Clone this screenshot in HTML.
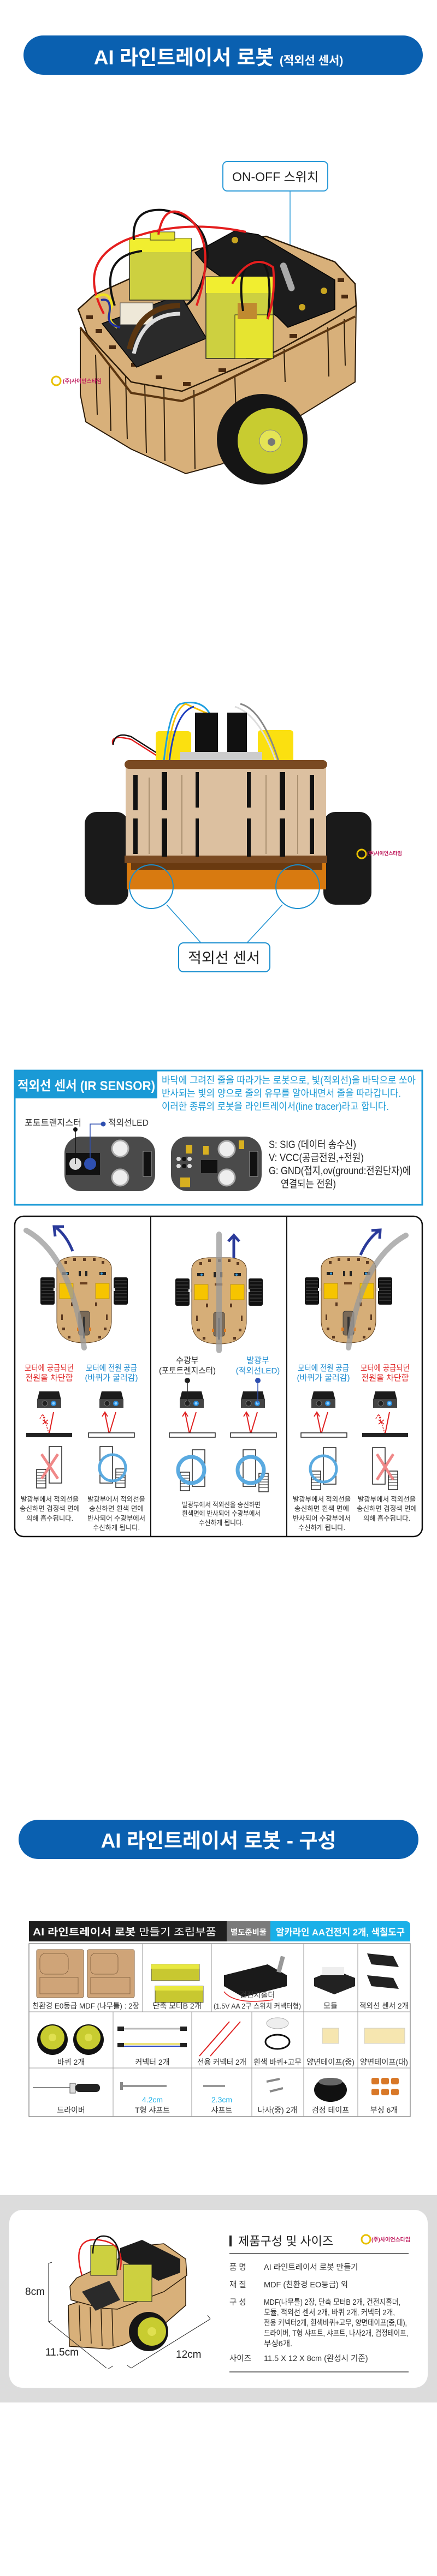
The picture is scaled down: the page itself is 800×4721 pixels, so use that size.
<!DOCTYPE html>
<html><head><meta charset="utf-8">
<style>
html,body{margin:0;padding:0;background:#fff;}
svg{display:block;}
text{font-family:"Liberation Sans","Noto Sans CJK KR",sans-serif;}
</style></head>
<body>
<svg width="800" height="4721" viewBox="0 0 800 4721" xmlns="http://www.w3.org/2000/svg">
<defs>
  <g id="tcar">
    <rect x="-80" y="38" width="26" height="50" rx="3" fill="#111"/>
    <rect x="54" y="38" width="26" height="50" rx="3" fill="#111"/>
    <g stroke="#555" stroke-width="1">
      <line x1="-78" y1="44" x2="-56" y2="44"/><line x1="-78" y1="50" x2="-56" y2="50"/><line x1="-78" y1="56" x2="-56" y2="56"/><line x1="-78" y1="62" x2="-56" y2="62"/><line x1="-78" y1="68" x2="-56" y2="68"/><line x1="-78" y1="74" x2="-56" y2="74"/><line x1="-78" y1="80" x2="-56" y2="80"/>
      <line x1="56" y1="44" x2="78" y2="44"/><line x1="56" y1="50" x2="78" y2="50"/><line x1="56" y1="56" x2="78" y2="56"/><line x1="56" y1="62" x2="78" y2="62"/><line x1="56" y1="68" x2="78" y2="68"/><line x1="56" y1="74" x2="78" y2="74"/><line x1="56" y1="80" x2="78" y2="80"/>
    </g>
    <rect x="-56" y="58" width="112" height="5" fill="#eee"/>
    <path d="M-50,20 Q-48,2 -20,0 L20,0 Q48,2 50,20 L50,120 Q48,158 0,158 Q-48,158 -50,120 Z" fill="#d6ae78" stroke="#5a3b1a" stroke-width="1"/>
    <rect x="-45" y="49" width="25" height="28" fill="#f6c400" stroke="#8a6a00" stroke-width="0.5"/>
    <rect x="21" y="49" width="25" height="28" fill="#f6c400" stroke="#8a6a00" stroke-width="0.5"/>
    <rect x="-40" y="28" width="12" height="6" fill="#222"/><circle cx="-32" cy="31" r="2" fill="#3aa0e0"/>
    <rect x="28" y="28" width="12" height="6" fill="#222"/><circle cx="32" cy="31" r="2" fill="#3aa0e0"/>
    <rect x="-10" y="26" width="4" height="10" fill="#222"/><rect x="2" y="26" width="4" height="10" fill="#222"/>
    <rect x="-8" y="47" width="14" height="4" fill="#6a4020"/>
    <g fill="#5a3820">
      <rect x="-36" y="8" width="5" height="5"/><rect x="-20" y="3" width="5" height="5"/><rect x="-2" y="3" width="5" height="5"/><rect x="16" y="3" width="5" height="5"/><rect x="32" y="8" width="5" height="5"/>
      <rect x="-24" y="84" width="4" height="7"/><rect x="20" y="84" width="4" height="7"/>
      <rect x="-42" y="106" width="3" height="10"/><rect x="40" y="106" width="3" height="10"/>
      <rect x="-40" y="130" width="5" height="5"/><rect x="36" y="130" width="5" height="5"/><rect x="-30" y="145" width="5" height="5"/><rect x="26" y="145" width="5" height="5"/>
    </g>
    <rect x="-10" y="100" width="20" height="44" rx="4" fill="#7a6a58" stroke="#333" stroke-width="0.8"/>
    <rect x="-2" y="110" width="4" height="40" fill="#333"/>
    <rect x="-13" y="130" width="4" height="6" fill="#e07a20"/><rect x="9" y="130" width="4" height="6" fill="#e07a20"/>
  </g>
  <g id="sens">
    <path d="M-18,0 L18,0 L22,16 L22,30 L-22,30 L-22,16 Z" fill="#1c1c1c"/>
    <rect x="-22" y="14" width="44" height="16" fill="#444"/>
    <circle cx="-8" cy="22" r="5" fill="#222" stroke="#777" stroke-width="1"/>
    <circle cx="8" cy="22" r="5" fill="#2a8fe0"/><circle cx="8" cy="22" r="2.5" fill="#8fd0ff"/>
  </g>
  <g id="okray"><polyline points="-12,40 -4,78 8,38" fill="none" stroke="#e02020" stroke-width="2"/><polyline points="-17,46 -12,38 -7,46" fill="none" stroke="#e02020" stroke-width="2"/></g>
  <g id="badray"><line x1="8" y1="38" x2="0" y2="78" stroke="#e02020" stroke-width="2"/><polyline points="0,78 -12,42" fill="none" stroke="#e02020" stroke-width="1.5" stroke-dasharray="3,2"/><polyline points="-17,50 -12,42 -7,50" fill="none" stroke="#e02020" stroke-width="1.5" stroke-dasharray="3,2"/><line x1="-12" y1="52" x2="-2" y2="60" stroke="#e02020" stroke-width="1.5"/><line x1="-2" y1="52" x2="-12" y2="60" stroke="#e02020" stroke-width="1.5"/></g>
  <g id="pad"><rect x="0" y="0" width="17" height="34" fill="#fff" stroke="#222" stroke-width="1.5"/><g stroke="#222" stroke-width="1"><line x1="0" y1="6" x2="17" y2="6"/><line x1="0" y1="11" x2="17" y2="11"/><line x1="0" y1="16" x2="17" y2="16"/><line x1="0" y1="21" x2="17" y2="21"/><line x1="0" y1="26" x2="17" y2="26"/></g></g>
</defs>

<!-- ===== Title 1 ===== -->
<rect x="43" y="65" width="731" height="72" rx="36" fill="#0a60b0"/>
<text x="400" y="118" text-anchor="middle" fill="#fff" font-weight="bold" font-size="37">AI 라인트레이서 로봇 <tspan font-size="21">(적외선 센서)</tspan></text>

<!-- ON-OFF label -->
<rect x="408" y="296" width="192" height="54" rx="8" fill="#fff" stroke="#2a9ad8" stroke-width="2"/>
<text x="504" y="332" text-anchor="middle" font-size="23" fill="#222">ON-OFF 스위치</text>
<line x1="531" y1="350" x2="531" y2="478" stroke="#2a9ad8" stroke-width="1.5"/>
<polygon points="523,475 539,475 531,492" fill="#2a9ad8"/>

<!-- ===== Car 1 (3D) ===== -->
<path d="M147,600 L147,723 L157,773 L240,823 L340,868 L407,850 L650,700 L652,560 L573,607 L507,643 L373,700 L333,717 L240,700 L160,613 Z" fill="#d8b07a" stroke="#2a1a08" stroke-width="2"/>
<g stroke="#2a1a08" stroke-width="2">
<line x1="175" y1="650" x2="178" y2="760"/><line x1="200" y1="670" x2="203" y2="790"/><line x1="230" y1="690" x2="233" y2="805"/><line x1="265" y1="705" x2="268" y2="830"/><line x1="300" y1="712" x2="302" y2="845"/><line x1="355" y1="715" x2="357" y2="860"/><line x1="430" y1="690" x2="432" y2="760"/><line x1="520" y1="640" x2="522" y2="700"/><line x1="600" y1="600" x2="602" y2="690"/><line x1="630" y1="585" x2="632" y2="670"/>
</g>
<path d="M143,567 L173,540 L357,457 L487,433 L613,480 L650,520 L652,560 L573,607 L507,643 L373,700 L333,717 L240,700 L160,613 Z" fill="#d8b07a" stroke="#2a1a08" stroke-width="2.5"/>
<path d="M147,600 L240,720 L333,735 L373,718 L650,580" fill="none" stroke="#5a3510" stroke-width="4"/>
<g fill="#4a2a10">
<rect x="158" y="578" width="12" height="7"/><rect x="175" y="603" width="12" height="7"/><rect x="200" y="633" width="12" height="7"/><rect x="240" y="665" width="12" height="7"/><rect x="285" y="688" width="12" height="7"/><rect x="335" y="700" width="14" height="7"/><rect x="400" y="675" width="14" height="7"/><rect x="450" y="651" width="14" height="7"/><rect x="530" y="612" width="14" height="7"/><rect x="625" y="540" width="12" height="7"/><rect x="618" y="510" width="12" height="7"/>
</g>
<path d="M357,463 L430,423 L473,430 L613,513 L613,567 L527,600 L507,580 L380,490 Z" fill="#1c1c1c" stroke="#000" stroke-width="1.5"/>
<circle cx="430" cy="440" r="6" fill="#c9a520"/><circle cx="593" cy="533" r="6" fill="#c9a520"/><circle cx="553" cy="563" r="6" fill="#c9a520"/>
<rect x="520" y="480" width="12" height="55" rx="6" fill="#aaa" transform="rotate(-20 526 507)"/>
<path d="M187,593 L330,540 L378,620 L250,673 Z" fill="#2a2a2a" stroke="#000" stroke-width="1.5"/>
<rect x="220" y="555" width="60" height="40" fill="#eee8d8" stroke="#555"/>
<path d="M237,640 Q255,560 330,560" fill="none" stroke="#5a3510" stroke-width="10"/>
<path d="M245,648 Q262,575 330,575" fill="none" stroke="#ddd" stroke-width="7"/>
<rect x="237" y="437" width="113" height="113" fill="#cdd040" stroke="#222" stroke-width="1.5"/>
<rect x="237" y="437" width="113" height="25" fill="#f1ee30"/>
<rect x="275" y="425" width="45" height="15" fill="#e8e430" stroke="#222"/>
<rect x="377" y="507" width="123" height="150" fill="#cdd040" stroke="#222" stroke-width="1.5"/>
<rect x="377" y="507" width="123" height="30" fill="#f1ee30"/>
<rect x="430" y="577" width="70" height="80" fill="#e6e430" stroke="#222"/>
<rect x="435" y="555" width="35" height="30" fill="#c08a30"/>
<path d="M190,575 Q140,480 230,440 Q330,400 450,425" fill="none" stroke="#e41e1e" stroke-width="4"/>
<path d="M245,440 Q240,380 300,385 Q380,400 380,470 Q370,540 340,560" fill="none" stroke="#111" stroke-width="4"/>
<path d="M290,430 Q300,370 340,395 Q400,440 360,560" fill="none" stroke="#e41e1e" stroke-width="4"/>
<path d="M210,560 Q180,470 260,460" fill="none" stroke="#111" stroke-width="4"/>
<path d="M445,570 Q430,470 480,480 Q500,500 490,585" fill="none" stroke="#111" stroke-width="4"/>
<path d="M425,520 Q460,460 500,490 Q505,540 490,585" fill="none" stroke="#e41e1e" stroke-width="4"/>
<path d="M175,545 Q200,530 205,560 Q190,585 215,600" fill="none" stroke="#f1e020" stroke-width="5"/>
<path d="M185,550 Q205,545 200,575 Q195,595 220,600" fill="none" stroke="#2030a0" stroke-width="4"/>
<circle cx="480" cy="805" r="83" fill="#151515"/>
<circle cx="495" cy="808" r="60" fill="#c8cc30"/>
<circle cx="495" cy="808" r="20" fill="#e4e455" stroke="#888"/>
<circle cx="497" cy="810" r="7" fill="#777"/>
<circle cx="103" cy="698" r="8" fill="none" stroke="#e8c000" stroke-width="3"/>
<text x="115" y="702" font-size="10" font-weight="bold" fill="#c02060">(주)사이언스타임</text>

<!-- ===== Car 2 photo front ===== -->
<rect x="155" y="1488" width="80" height="170" rx="22" fill="#1a1a1a"/>
<rect x="592" y="1488" width="88" height="170" rx="22" fill="#1a1a1a"/>
<rect x="232" y="1580" width="365" height="50" fill="#d87a10"/>
<rect x="240" y="1580" width="350" height="14" fill="#6a3a10"/>
<path d="M207,1365 Q200,1345 240,1355 L295,1390" fill="none" stroke="#e41e1e" stroke-width="2.5"/>
<path d="M207,1365 Q210,1340 240,1350 L295,1385" fill="none" stroke="#111" stroke-width="2.5"/>
<rect x="285" y="1340" width="65" height="58" rx="6" fill="#fbe010"/>
<rect x="472" y="1338" width="65" height="60" rx="6" fill="#fbe010"/>
<path d="M300,1395 Q310,1300 330,1290 Q370,1280 385,1310" fill="none" stroke="#1fa0e0" stroke-width="3"/>
<path d="M305,1395 Q315,1300 340,1290 L385,1310" fill="none" stroke="#f8c000" stroke-width="3"/>
<path d="M310,1395 Q320,1305 355,1295" fill="none" stroke="#2040c0" stroke-width="3"/>
<path d="M510,1395 Q480,1300 440,1290" fill="none" stroke="#888" stroke-width="3"/>
<path d="M505,1395 Q475,1310 430,1295" fill="none" stroke="#ddd" stroke-width="3"/>
<rect x="357" y="1306" width="42" height="80" fill="#111"/>
<rect x="416" y="1306" width="36" height="80" fill="#111"/>
<rect x="330" y="1378" width="150" height="20" fill="#ccc"/>
<rect x="230" y="1400" width="367" height="180" fill="#dcc0a0"/>
<rect x="228" y="1393" width="371" height="16" rx="8" fill="#7a4a22"/>
<rect x="228" y="1568" width="371" height="14" fill="#7a4a22"/>
<g fill="#111">
<rect x="244" y="1420" width="8" height="65"/><rect x="244" y="1500" width="8" height="65"/>
<rect x="296" y="1415" width="10" height="70"/><rect x="296" y="1500" width="10" height="70"/>
<rect x="358" y="1415" width="6" height="65"/><rect x="358" y="1500" width="6" height="70"/>
<rect x="452" y="1415" width="7" height="65"/><rect x="452" y="1500" width="7" height="70"/>
<rect x="512" y="1415" width="10" height="70"/><rect x="512" y="1500" width="10" height="70"/>
<rect x="567" y="1420" width="8" height="65"/><rect x="567" y="1500" width="8" height="65"/>
</g>
<g stroke="#9a8060" stroke-width="1.5"><line x1="273" y1="1425" x2="273" y2="1565"/><line x1="333" y1="1420" x2="333" y2="1565"/><line x1="487" y1="1420" x2="487" y2="1565"/><line x1="545" y1="1420" x2="545" y2="1565"/></g>
<circle cx="662" cy="1565" r="8" fill="none" stroke="#e8c000" stroke-width="3"/>
<text x="672" y="1567" font-size="9" font-weight="bold" fill="#c02060">(주)사이언스타임</text>
<circle cx="277" cy="1625" r="40" fill="none" stroke="#1a8fd0" stroke-width="2"/>
<circle cx="545" cy="1625" r="40" fill="none" stroke="#1a8fd0" stroke-width="2"/>
<line x1="305" y1="1658" x2="368" y2="1728" stroke="#1a8fd0" stroke-width="1.5"/>
<line x1="517" y1="1658" x2="452" y2="1728" stroke="#1a8fd0" stroke-width="1.5"/>
<rect x="327" y="1728" width="167" height="53" rx="9" fill="#fff" stroke="#1a8fd0" stroke-width="2"/>
<text x="410" y="1765" text-anchor="middle" font-size="27" fill="#222">적외선 센서</text>

<!-- ===== IR SENSOR box ===== -->
<rect x="27" y="1962" width="746" height="246" fill="#fff" stroke="#1a9ad6" stroke-width="3"/>
<rect x="27" y="1962" width="261" height="51" fill="#1a9ad6"/>
<text x="32" y="1998" font-size="24" font-weight="bold" fill="#fff" textLength="252" lengthAdjust="spacingAndGlyphs">적외선 센서 (IR SENSOR)</text>
<g font-size="18" fill="#1a9ad6">
<text x="296" y="1986" textLength="465" lengthAdjust="spacingAndGlyphs">바닥에 그려진 줄을 따라가는 로봇으로, 빛(적외선)을 바닥으로 쏘아</text>
<text x="296" y="2010" textLength="438" lengthAdjust="spacingAndGlyphs">반사되는 빛의 양으로 줄의 유무를 알아내면서 줄을 따라갑니다.</text>
<text x="296" y="2034" textLength="416" lengthAdjust="spacingAndGlyphs">이러한 종류의 로봇을 라인트레이서(line tracer)라고 합니다.</text>
</g>
<text x="45" y="2063" font-size="16" fill="#333" textLength="104" lengthAdjust="spacingAndGlyphs">포토트랜지스터</text>
<text x="198" y="2063" font-size="16" fill="#333" textLength="74" lengthAdjust="spacingAndGlyphs">적외선LED</text>
<rect x="118" y="2083" width="166" height="100" rx="30" fill="#4a4a4a"/>
<rect x="121" y="2113" width="62" height="40" fill="#111"/>
<circle cx="138" cy="2133" r="11" fill="#ddd"/><circle cx="165" cy="2133" r="11" fill="#2e4fb0"/>
<circle cx="220" cy="2105" r="15" fill="#eee" stroke="#aaa" stroke-width="3"/><circle cx="220" cy="2158" r="15" fill="#eee" stroke="#aaa" stroke-width="3"/>
<rect x="262" y="2110" width="15" height="46" fill="#111" stroke="#999"/>
<line x1="138" y1="2070" x2="138" y2="2133" stroke="#111" stroke-width="1.5"/><circle cx="138" cy="2070" r="4" fill="#111"/>
<polyline points="165,2133 165,2060 186,2060" fill="none" stroke="#2e4fb0" stroke-width="1.5"/><circle cx="189" cy="2060" r="4.5" fill="#2e4fb0"/>
<rect x="313" y="2083" width="166" height="100" rx="30" fill="#4a4a4a"/>
<circle cx="415" cy="2106" r="15" fill="#eee" stroke="#aaa" stroke-width="3"/><circle cx="415" cy="2158" r="15" fill="#eee" stroke="#aaa" stroke-width="3"/>
<rect x="368" y="2126" width="30" height="24" fill="#111"/>
<rect x="340" y="2098" width="12" height="16" fill="#d8b020"/><rect x="372" y="2100" width="10" height="16" fill="#d8b020"/><rect x="437" y="2090" width="10" height="16" fill="#d8b020"/><rect x="330" y="2158" width="18" height="18" fill="#d8b020"/>
<circle cx="327" cy="2124" r="4" fill="#ddd"/><circle cx="337" cy="2124" r="4" fill="#111"/><circle cx="347" cy="2124" r="4" fill="#ddd"/>
<circle cx="327" cy="2137" r="4" fill="#ddd"/><circle cx="337" cy="2137" r="4" fill="#111"/><circle cx="347" cy="2137" r="4" fill="#ddd"/>
<rect x="457" y="2110" width="15" height="46" fill="#111" stroke="#999"/>
<g font-size="19" fill="#222">
<text x="492" y="2104" textLength="160" lengthAdjust="spacingAndGlyphs">S: SIG (데이터 송수신)</text>
<text x="492" y="2128" textLength="174" lengthAdjust="spacingAndGlyphs">V: VCC(공급전원,+전원)</text>
<text x="492" y="2152" textLength="260" lengthAdjust="spacingAndGlyphs">G: GND(접지,ov(ground:전원단자)에</text>
<text x="514" y="2176" textLength="101" lengthAdjust="spacingAndGlyphs">연결되는 전원)</text>
</g>

<!-- ===== Working panel ===== -->
<rect x="27" y="2229" width="746" height="587" rx="16" fill="#fff" stroke="#111" stroke-width="2.5"/>
<line x1="276" y1="2229" x2="276" y2="2816" stroke="#111" stroke-width="2"/>
<line x1="525" y1="2229" x2="525" y2="2816" stroke="#111" stroke-width="2"/>
<use href="#tcar" x="154" y="2303"/>
<path d="M48,2255 Q130,2300 154,2470" fill="none" stroke="#999" stroke-width="10" stroke-linecap="round" opacity="0.75"/>
<path d="M133,2293 Q122,2265 103,2250" fill="none" stroke="#2a3a9a" stroke-width="5"/>
<polyline points="101,2266 99,2248 117,2248" fill="none" stroke="#2a3a9a" stroke-width="5"/>
<use href="#tcar" x="401" y="2305"/>
<line x1="401" y1="2262" x2="401" y2="2475" stroke="#999" stroke-width="10" stroke-linecap="round" opacity="0.75"/>
<line x1="428" y1="2305" x2="428" y2="2265" stroke="#2a3a9a" stroke-width="5"/>
<polyline points="418,2275 428,2264 438,2275" fill="none" stroke="#2a3a9a" stroke-width="5"/>
<use href="#tcar" x="638" y="2303"/>
<path d="M743,2264 Q660,2310 638,2470" fill="none" stroke="#999" stroke-width="10" stroke-linecap="round" opacity="0.75"/>
<path d="M660,2300 Q672,2272 693,2256" fill="none" stroke="#2a3a9a" stroke-width="5"/>
<polyline points="680,2255 696,2254 695,2270" fill="none" stroke="#2a3a9a" stroke-width="5"/>

<g font-size="15" text-anchor="middle">
<text x="90" y="2512" fill="#e02828" textLength="90" lengthAdjust="spacingAndGlyphs">모터에 공급되던</text><text x="90" y="2530" fill="#e02828">전원을 차단함</text>
<text x="204" y="2512" fill="#1a8ad0" textLength="94" lengthAdjust="spacingAndGlyphs">모터에 전원 공급</text><text x="204" y="2530" fill="#1a8ad0">(바퀴가 굴러감)</text>
<text x="343" y="2498" fill="#222">수광부</text><text x="343" y="2517" fill="#222" textLength="104" lengthAdjust="spacingAndGlyphs">(포토트렌지스터)</text>
<text x="472" y="2498" fill="#1a8ad0">발광부</text><text x="472" y="2517" fill="#1a8ad0">(적외선LED)</text>
<text x="592" y="2512" fill="#1a8ad0" textLength="94" lengthAdjust="spacingAndGlyphs">모터에 전원 공급</text><text x="592" y="2530" fill="#1a8ad0">(바퀴가 굴러감)</text>
<text x="705" y="2512" fill="#e02828" textLength="90" lengthAdjust="spacingAndGlyphs">모터에 공급되던</text><text x="705" y="2530" fill="#e02828">전원을 차단함</text>
</g>
<use href="#sens" x="90" y="2550"/><use href="#badray" x="90" y="2550"/>
<rect x="48" y="2626" width="84" height="8" fill="#222"/>
<use href="#sens" x="204" y="2550"/><use href="#okray" x="204" y="2550"/>
<rect x="162" y="2626" width="84" height="8" fill="#fff" stroke="#222" stroke-width="1.5"/>
<use href="#sens" x="351" y="2550"/><use href="#okray" x="351" y="2550"/>
<rect x="310" y="2626" width="84" height="8" fill="#fff" stroke="#222" stroke-width="1.5"/>
<line x1="343" y1="2530" x2="343" y2="2572" stroke="#222" stroke-width="1.5"/><circle cx="343" cy="2530" r="5" fill="#222"/>
<use href="#sens" x="463" y="2550"/><use href="#okray" x="463" y="2550"/>
<rect x="422" y="2626" width="84" height="8" fill="#fff" stroke="#222" stroke-width="1.5"/>
<line x1="472" y1="2530" x2="472" y2="2572" stroke="#2e4fb0" stroke-width="1.5"/><circle cx="472" cy="2530" r="5" fill="#2e4fb0"/>
<use href="#sens" x="592" y="2550"/><use href="#okray" x="592" y="2550"/>
<rect x="551" y="2626" width="84" height="8" fill="#fff" stroke="#222" stroke-width="1.5"/>
<use href="#sens" x="705" y="2550"/><use href="#badray" x="705" y="2550"/>
<rect x="663" y="2626" width="84" height="8" fill="#222"/>

<rect x="90" y="2651" width="23" height="67" fill="#fff" stroke="#222" stroke-width="1.5"/>
<use href="#pad" x="67" y="2693"/>
<g stroke="#f08888" stroke-width="5"><line x1="76" y1="2665" x2="106" y2="2710"/><line x1="106" y1="2665" x2="76" y2="2710"/></g>
<rect x="183" y="2651" width="23" height="67" fill="#fff" stroke="#222" stroke-width="1.5"/>
<use href="#pad" x="212" y="2692"/>
<circle cx="206" cy="2690" r="24" fill="none" stroke="#5aaae0" stroke-width="5"/>
<rect x="352" y="2657" width="23" height="67" fill="#fff" stroke="#222" stroke-width="1.5"/>
<use href="#pad" x="330" y="2698"/>
<circle cx="350" cy="2694" r="24" fill="none" stroke="#5aaae0" stroke-width="7"/>
<rect x="445" y="2657" width="23" height="67" fill="#fff" stroke="#222" stroke-width="1.5"/>
<use href="#pad" x="474" y="2700"/>
<circle cx="459" cy="2694" r="24" fill="none" stroke="#5aaae0" stroke-width="7"/>
<rect x="592" y="2653" width="23" height="67" fill="#fff" stroke="#222" stroke-width="1.5"/>
<use href="#pad" x="570" y="2696"/>
<circle cx="592" cy="2692" r="24" fill="none" stroke="#5aaae0" stroke-width="5"/>
<rect x="682" y="2653" width="23" height="67" fill="#fff" stroke="#222" stroke-width="1.5"/>
<use href="#pad" x="711" y="2696"/>
<g stroke="#f08888" stroke-width="5"><line x1="690" y1="2665" x2="720" y2="2712"/><line x1="720" y1="2665" x2="690" y2="2712"/></g>

<g font-size="12.5" fill="#333" text-anchor="middle" lengthAdjust="spacingAndGlyphs">
<text x="91" y="2752" textLength="106" lengthAdjust="spacingAndGlyphs">발광부에서 적외선을</text><text x="91" y="2769" textLength="110" lengthAdjust="spacingAndGlyphs">송신하면 검정색 면에</text><text x="91" y="2787" textLength="86" lengthAdjust="spacingAndGlyphs">의해 흡수됩니다.</text>
<text x="213" y="2752" textLength="106" lengthAdjust="spacingAndGlyphs">발광부에서 적외선을</text><text x="213" y="2769" textLength="100" lengthAdjust="spacingAndGlyphs">송신하면 흰색 면에</text><text x="213" y="2787" textLength="106" lengthAdjust="spacingAndGlyphs">반사되어 수광부에서</text><text x="213" y="2804" textLength="86" lengthAdjust="spacingAndGlyphs">수신하게 됩니다.</text>
<text x="405" y="2762" textLength="144" lengthAdjust="spacingAndGlyphs">발광부에서 적외선을 송신하면</text><text x="405" y="2778" textLength="144" lengthAdjust="spacingAndGlyphs">흰색면에 반사되어 수광부에서</text><text x="405" y="2795" textLength="82" lengthAdjust="spacingAndGlyphs">수신하게 됩니다.</text>
<text x="589" y="2752" textLength="106" lengthAdjust="spacingAndGlyphs">발광부에서 적외선을</text><text x="589" y="2769" textLength="100" lengthAdjust="spacingAndGlyphs">송신하면 흰색 면에</text><text x="589" y="2787" textLength="106" lengthAdjust="spacingAndGlyphs">반사되어 수광부에서</text><text x="589" y="2804" textLength="86" lengthAdjust="spacingAndGlyphs">수신하게 됩니다.</text>
<text x="708" y="2752" textLength="106" lengthAdjust="spacingAndGlyphs">발광부에서 적외선을</text><text x="708" y="2769" textLength="110" lengthAdjust="spacingAndGlyphs">송신하면 검정색 면에</text><text x="708" y="2787" textLength="86" lengthAdjust="spacingAndGlyphs">의해 흡수됩니다.</text>
</g>

<!-- ===== Title 2 ===== -->
<rect x="34" y="3335" width="732" height="72" rx="36" fill="#0a60b0"/>
<text x="400" y="3386" text-anchor="middle" fill="#fff" font-weight="bold" font-size="37">AI 라인트레이서 로봇 - 구성</text>

<rect x="53" y="3521" width="362" height="37" fill="#1e1e1e"/>
<rect x="415" y="3521" width="80" height="37" fill="#7a7a7a"/>
<path d="M495,3521 L743,3521 Q751,3521 751,3529 L751,3558 L495,3558 Z" fill="#1ab0e8"/>
<text x="60" y="3547" font-size="18" fill="#fff" textLength="336" lengthAdjust="spacingAndGlyphs"><tspan font-weight="bold">AI 라인트레이서 로봇</tspan> 만들기 조립부품</text>
<text x="422" y="3546" font-size="14" font-weight="bold" fill="#fff" textLength="66" lengthAdjust="spacingAndGlyphs">별도준비물</text>
<text x="505" y="3547" font-size="17" font-weight="bold" fill="#fff" textLength="236" lengthAdjust="spacingAndGlyphs">알카라인 AA건전지 2개, 색칠도구</text>

<rect x="53" y="3562" width="698" height="317" fill="#fff" stroke="#777" stroke-width="1.2"/>
<g stroke="#999" stroke-width="1">
<line x1="53" y1="3687" x2="751" y2="3687"/><line x1="53" y1="3790" x2="751" y2="3790"/>
<line x1="261" y1="3562" x2="261" y2="3687"/><line x1="387" y1="3562" x2="387" y2="3687"/><line x1="556" y1="3562" x2="556" y2="3879"/><line x1="655" y1="3562" x2="655" y2="3879"/>
<line x1="207" y1="3687" x2="207" y2="3879"/><line x1="351" y1="3687" x2="351" y2="3879"/><line x1="461" y1="3687" x2="461" y2="3879"/>
</g>
<rect x="67" y="3573" width="86" height="88" rx="3" fill="#cfa478" stroke="#8a6a4a"/>
<rect x="160" y="3573" width="86" height="88" rx="3" fill="#cfa478" stroke="#8a6a4a"/>
<g fill="none" stroke="#7a5a3a" stroke-width="0.8"><rect x="73" y="3580" width="52" height="38" rx="10"/><rect x="73" y="3624" width="70" height="30"/><rect x="166" y="3580" width="50" height="38" rx="8"/><rect x="166" y="3624" width="72" height="30"/></g>
<rect x="277" y="3600" width="88" height="30" fill="#c8c830" stroke="#555"/><rect x="277" y="3600" width="88" height="8" fill="#e8e840"/>
<rect x="284" y="3640" width="88" height="30" fill="#c8c830" stroke="#555"/><rect x="284" y="3640" width="88" height="8" fill="#e8e840"/>
<path d="M410,3620 L490,3600 L525,3620 L525,3640 L445,3660 L410,3640 Z" fill="#1a1a1a"/>
<rect x="510" y="3585" width="8" height="30" fill="#999" transform="rotate(15 514 3600)"/>
<path d="M410,3650 Q430,3675 500,3665" fill="none" stroke="#e02020" stroke-width="1.5"/>
<path d="M575,3625 L612,3610 L650,3625 L650,3640 L612,3655 L575,3640 Z" fill="#222"/><rect x="590" y="3605" width="40" height="15" fill="#eee"/>
<path d="M672,3580 L720,3585 L730,3605 L680,3600 Z" fill="#222"/><path d="M672,3620 L720,3625 L730,3645 L680,3640 Z" fill="#222"/>
<g font-size="14" fill="#333" text-anchor="middle">
<text x="157" y="3681" textLength="196" lengthAdjust="spacingAndGlyphs">친환경 E0등급 MDF (나무틀) : 2장</text>
<text x="324" y="3681">단축 모터B 2개</text>
<text x="471" y="3661">건전지홀더</text><text x="471" y="3681" font-size="13" textLength="160" lengthAdjust="spacingAndGlyphs">(1.5V AA 2구 스위치 커넥터형)</text>
<text x="605" y="3681">모듈</text>
<text x="703" y="3681" textLength="90" lengthAdjust="spacingAndGlyphs">적외선 센서 2개</text>
</g>
<circle cx="96" cy="3738" r="28" fill="#111"/><circle cx="96" cy="3734" r="22" fill="#c8cc30"/><circle cx="96" cy="3734" r="7" fill="#e0e050"/>
<circle cx="162" cy="3738" r="28" fill="#111"/><circle cx="162" cy="3734" r="22" fill="#c8cc30"/><circle cx="162" cy="3734" r="7" fill="#e0e050"/>
<rect x="215" y="3714" width="12" height="8" fill="#222"/><rect x="330" y="3714" width="12" height="8" fill="#222"/><line x1="227" y1="3718" x2="330" y2="3718" stroke="#bbb" stroke-width="3"/>
<rect x="215" y="3744" width="12" height="8" fill="#222"/><rect x="330" y="3744" width="12" height="8" fill="#222"/><line x1="227" y1="3746" x2="330" y2="3746" stroke="#e0d020" stroke-width="2"/><line x1="227" y1="3750" x2="330" y2="3750" stroke="#2040c0" stroke-width="2"/>
<line x1="365" y1="3768" x2="420" y2="3705" stroke="#e02020" stroke-width="2"/><line x1="385" y1="3768" x2="440" y2="3705" stroke="#e02020" stroke-width="2"/>
<ellipse cx="508" cy="3708" rx="20" ry="10" fill="#eee" stroke="#aaa"/><ellipse cx="508" cy="3742" rx="22" ry="13" fill="none" stroke="#111" stroke-width="3"/>
<rect x="590" y="3717" width="30" height="28" fill="#f6e6b0" stroke="#ccc"/>
<rect x="667" y="3717" width="74" height="28" fill="#f6e6b0" stroke="#ccc"/>
<g font-size="14" fill="#333" text-anchor="middle">
<text x="130" y="3784">바퀴 2개</text><text x="279" y="3784">커넥터 2개</text><text x="406" y="3784" textLength="90" lengthAdjust="spacingAndGlyphs">전용 커넥터 2개</text><text x="508" y="3784" textLength="88" lengthAdjust="spacingAndGlyphs">흰색 바퀴+고무</text><text x="605" y="3784" textLength="88" lengthAdjust="spacingAndGlyphs">양면테이프(중)</text><text x="703" y="3784" textLength="88" lengthAdjust="spacingAndGlyphs">양면테이프(대)</text>
</g>
<line x1="60" y1="3826" x2="130" y2="3826" stroke="#888" stroke-width="2"/><rect x="128" y="3818" width="10" height="18" fill="#ddd" stroke="#555"/><rect x="138" y="3819" width="45" height="15" rx="7" fill="#222"/>
<line x1="225" y1="3823" x2="305" y2="3823" stroke="#999" stroke-width="4"/><rect x="220" y="3816" width="5" height="14" fill="#888"/>
<line x1="372" y1="3823" x2="412" y2="3823" stroke="#999" stroke-width="4"/>
<line x1="488" y1="3815" x2="512" y2="3810" stroke="#888" stroke-width="4"/><line x1="494" y1="3833" x2="518" y2="3827" stroke="#888" stroke-width="4"/>
<ellipse cx="605" cy="3830" rx="30" ry="22" fill="#111"/><ellipse cx="605" cy="3815" rx="22" ry="7" fill="#666"/>
<g fill="#d87828"><rect x="680" y="3808" width="14" height="12" rx="3"/><rect x="698" y="3808" width="14" height="12" rx="3"/><rect x="716" y="3808" width="14" height="12" rx="3"/><rect x="680" y="3828" width="14" height="12" rx="3"/><rect x="698" y="3828" width="14" height="12" rx="3"/><rect x="716" y="3828" width="14" height="12" rx="3"/></g>
<g font-size="14" fill="#333" text-anchor="middle">
<text x="130" y="3872">드라이버</text>
<text x="279" y="3853" fill="#1ab0e8">4.2cm</text><text x="279" y="3872">T형 샤프트</text>
<text x="406" y="3853" fill="#1ab0e8">2.3cm</text><text x="406" y="3872">샤프트</text>
<text x="508" y="3872">나사(중) 2개</text><text x="605" y="3872">검정 테이프</text><text x="703" y="3872">부싱 6개</text>
</g>

<!-- ===== Bottom spec card ===== -->
<rect x="0" y="4023" width="800" height="380" fill="#dcdcdc"/>
<rect x="17" y="4050" width="766" height="326" rx="24" fill="#fff"/>
<path d="M125,4225 L127,4300 L200,4305 L225,4298 L300,4260 L340,4225 L340,4150 Z" fill="#d8b07a" stroke="#2a1a08" stroke-width="1.5"/>
<path d="M128,4190 L140,4175 L270,4115 L300,4112 L340,4140 L342,4170 L300,4200 L215,4232 L185,4230 L130,4215 Z" fill="#d8b07a" stroke="#2a1a08" stroke-width="1.5"/>
<g stroke="#2a1a08" stroke-width="1.5"><line x1="145" y1="4225" x2="147" y2="4290"/><line x1="165" y1="4228" x2="167" y2="4295"/><line x1="185" y1="4232" x2="187" y2="4300"/><line x1="205" y1="4232" x2="207" y2="4300"/></g>
<path d="M220,4120 L260,4105 L330,4140 L330,4165 L290,4180 L220,4140 Z" fill="#1c1c1c"/>
<rect x="166" y="4115" width="48" height="55" fill="#cdd040" stroke="#222"/>
<rect x="226" y="4150" width="52" height="68" fill="#cdd040" stroke="#222"/>
<path d="M150,4200 L200,4180 L220,4215 L175,4235 Z" fill="#2a2a2a"/>
<path d="M150,4170 Q130,4100 180,4105 Q230,4110 220,4160" fill="none" stroke="#e41e1e" stroke-width="2.5"/>
<path d="M170,4130 Q170,4090 200,4100 Q225,4115 215,4160" fill="none" stroke="#111" stroke-width="2.5"/>
<circle cx="272" cy="4273" r="36" fill="#151515"/><circle cx="278" cy="4273" r="26" fill="#c8cc30"/><circle cx="278" cy="4273" r="8" fill="#e0e050"/>
<polyline points="95,4146 89,4148 89,4255 95,4253" fill="none" stroke="#222" stroke-width="1"/>
<line x1="89" y1="4255" x2="195" y2="4340" stroke="#222" stroke-width="1"/><line x1="197" y1="4342" x2="207" y2="4336" stroke="#222" stroke-width="1"/>
<line x1="240" y1="4340" x2="385" y2="4250" stroke="#222" stroke-width="1"/><line x1="385" y1="4250" x2="380" y2="4243" stroke="#222" stroke-width="1"/><line x1="240" y1="4340" x2="233" y2="4335" stroke="#222" stroke-width="1"/>
<text x="46" y="4206" font-size="19" fill="#222">8cm</text>
<text x="83" y="4317" font-size="19" fill="#222">11.5cm</text>
<text x="322" y="4321" font-size="19" fill="#222">12cm</text>
<rect x="420" y="4097" width="4" height="20" fill="#222"/>
<text x="436" y="4115" font-size="22" fill="#222">제품구성 및 사이즈</text>
<circle cx="670" cy="4104" r="8" fill="none" stroke="#e8c000" stroke-width="3"/>
<text x="680" y="4108" font-size="10" font-weight="bold" fill="#c02060">(주)사이언스타임</text>
<line x1="420" y1="4130" x2="748" y2="4130" stroke="#222" stroke-width="1.2"/>
<g font-size="14.5" fill="#333">
<text x="420" y="4160">품  명</text><text x="483" y="4160">AI 라인트레이서 로봇 만들기</text>
<text x="420" y="4192">재  질</text><text x="483" y="4192">MDF (친환경 EO등급) 외</text>
<text x="420" y="4224">구  성</text>
<text x="483" y="4224" textLength="250" lengthAdjust="spacingAndGlyphs">MDF(나무틀) 2장, 단축 모터B 2개, 건전지홀더,</text>
<text x="483" y="4243" textLength="240" lengthAdjust="spacingAndGlyphs">모듈, 적외선 센서 2개, 바퀴 2개, 커넥터 2개,</text>
<text x="483" y="4262" textLength="262" lengthAdjust="spacingAndGlyphs">전용 커넥터2개, 흰색바퀴+고무, 양면테이프(중,대),</text>
<text x="483" y="4281" textLength="264" lengthAdjust="spacingAndGlyphs">드라이버, T형 샤프트, 샤프트, 나사2개, 검정테이프,</text>
<text x="483" y="4300">부싱6개.</text>
<text x="420" y="4327">사이즈</text><text x="483" y="4327">11.5 X 12 X 8cm (완성시 기준)</text>
</g>
<line x1="420" y1="4347" x2="748" y2="4347" stroke="#222" stroke-width="1.2"/>
</svg>
</body></html>
